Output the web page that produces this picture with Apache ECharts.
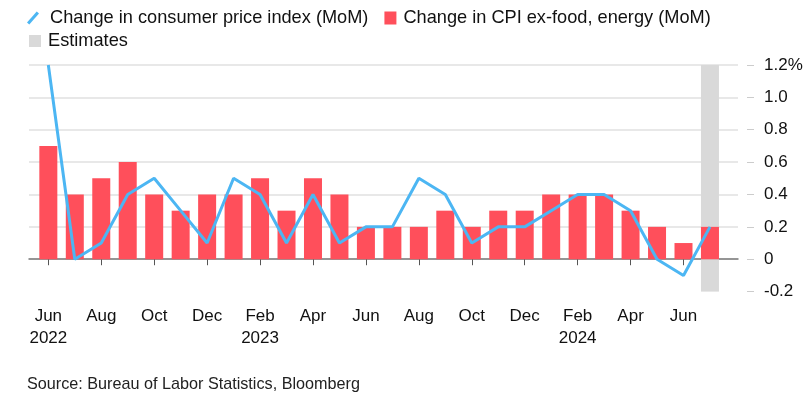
<!DOCTYPE html>
<html>
<head>
<meta charset="utf-8">
<script src="https://cdn.jsdelivr.net/npm/echarts@6/dist/echarts.min.js"></script>
<style>
html,body{margin:0;padding:0;background:#fff;}
#chart{width:808px;height:401px;}
</style>
</head>
<body>
<div id="chart"></div>
<script>
// ---- data ----
const categories = [
  'Jun 2022','Jul 2022','Aug 2022','Sep 2022','Oct 2022','Nov 2022','Dec 2022',
  'Jan 2023','Feb 2023','Mar 2023','Apr 2023','May 2023','Jun 2023','Jul 2023',
  'Aug 2023','Sep 2023','Oct 2023','Nov 2023','Dec 2023',
  'Jan 2024','Feb 2024','Mar 2024','Apr 2024','May 2024','Jun 2024','Jul 2024'
];
const tickLabels = [
  'Jun\n2022','','Aug','','Oct','','Dec',
  '','Feb\n2023','','Apr','','Jun','',
  'Aug','','Oct','','Dec',
  '','Feb\n2024','','Apr','','Jun',''
];
const cpiMoM = [1.2,0.0,0.1,0.4,0.5,0.3,0.1,0.5,0.4,0.1,0.4,0.1,0.2,0.2,0.5,0.4,0.1,0.2,0.2,0.3,0.4,0.4,0.3,0.0,-0.1,0.2];
const coreMoM = [0.7,0.4,0.5,0.6,0.4,0.3,0.4,0.4,0.5,0.3,0.5,0.4,0.2,0.2,0.2,0.3,0.2,0.3,0.3,0.4,0.4,0.4,0.3,0.2,0.1,0.2];
const estimatesHigh = [null,null,null,null,null,null,null,null,null,null,null,null,null,null,null,null,null,null,null,null,null,null,null,null,null,1.2];
const estimatesLow  = [null,null,null,null,null,null,null,null,null,null,null,null,null,null,null,null,null,null,null,null,null,null,null,null,null,-0.2];
const yTickLabels = {'1.2':'1.2%','1':'1.0','0.8':'0.8','0.6':'0.6','0.4':'0.4','0.2':'0.2','0':'0','-0.2':'-0.2'};

const FONT = 'Liberation Sans, Arial, sans-serif';
const BLUE = '#4cb6f3';
const RED = '#ff4f5b';
const GRAY = '#d9d9d9';

const chart = echarts.init(document.getElementById('chart'), null, {renderer:'canvas'});
const yCommon = {min:-0.2, max:1.2, interval:0.2};

chart.setOption({
  animation:false,
  backgroundColor:'#fff',
  textStyle:{fontFamily:FONT},
  legend:[
    {
      left:27, top:9, padding:0, itemWidth:12, itemHeight:13, itemGap:16,
      selectedMode:false,
      textStyle:{fontSize:18.2, color:'#111', fontFamily:FONT},
      data:[
        {name:'Change in consumer price index (MoM)', icon:'path://M0,11.4 L10.2,0 L12.6,2 L2.4,13.4 Z',
          itemStyle:{color:BLUE}, textStyle:{padding:[0,0,0,6]}},
        {name:'Change in CPI ex-food, energy (MoM)', icon:'rect', textStyle:{padding:[0,0,0,2]}}
      ]
    },
    {
      left:29, top:32, padding:0, itemWidth:12, itemHeight:12,
      selectedMode:false,
      textStyle:{fontSize:18.2, color:'#111', fontFamily:FONT, padding:[0,0,0,2]},
      data:[{name:'Estimates', icon:'rect'}]
    }
  ],
  title:{
    text:'Source: Bureau of Labor Statistics, Bloomberg',
    left:27, top:377, padding:0,
    textStyle:{fontSize:16.2, fontWeight:'normal', color:'#222', fontFamily:FONT}
  },
  grid:[
    {left:29, right:70, top:65, bottom:109.4, containLabel:false},
    {left:35.1, right:84.8, top:65, bottom:109.4, containLabel:false}
  ],
  xAxis:[
    {gridIndex:0, type:'value', min:0, max:1, show:true,
      axisLine:{show:true, onZero:true, lineStyle:{color:'#7a7a7a', width:1.5}},
      axisTick:{show:false}, axisLabel:{show:false}, splitLine:{show:false}},
    {gridIndex:1, type:'category', data:categories, boundaryGap:true,
      axisLine:{show:false},
      axisTick:{show:true, interval:1, alignWithLabel:true, length:6, lineStyle:{color:'#555', width:1}},
      axisLabel:{interval:1, margin:14, fontSize:17, lineHeight:22, color:'#111', fontFamily:FONT,
        formatter:function(v, i){ return tickLabels[i]; }},
      splitLine:{show:false}}
  ],
  yAxis:[
    Object.assign({gridIndex:0, type:'value', position:'right', offset:9,
      axisLine:{show:false, onZero:false},
      axisTick:{show:true, length:7, lineStyle:{color:'#cccccc', width:1}},
      axisLabel:{show:true, margin:17, fontSize:17, color:'#111', fontFamily:FONT, align:'left',
        formatter:function(v){ const k = String(Math.round(v*10)/10); return yTickLabels[k] !== undefined ? yTickLabels[k] : k; }},
      splitLine:{show:true, lineStyle:{color:'#e0e0e0', width:1.5},
        showMinLine:false}}, yCommon),
    Object.assign({gridIndex:1, type:'value', show:false, splitLine:{show:false}}, yCommon)
  ],
  series:[
    {name:'Estimates', type:'bar', xAxisIndex:1, yAxisIndex:1, data:estimatesHigh,
      barWidth:18, barGap:'-100%', itemStyle:{color:GRAY}, z:1, silent:true},
    {name:'EstimatesLow', type:'bar', xAxisIndex:1, yAxisIndex:1, data:estimatesLow,
      barWidth:18, barGap:'-100%', itemStyle:{color:GRAY}, z:1, silent:true},
    {name:'Change in CPI ex-food, energy (MoM)', type:'bar', xAxisIndex:1, yAxisIndex:1, data:coreMoM,
      barWidth:18, barGap:'-100%', itemStyle:{color:RED}, z:2},
    {name:'Change in consumer price index (MoM)', type:'line', xAxisIndex:1, yAxisIndex:1, data:cpiMoM,
      symbol:'none', lineStyle:{color:BLUE, width:3}, itemStyle:{color:BLUE}, z:5}
  ]
});
</script>
</body>
</html>
